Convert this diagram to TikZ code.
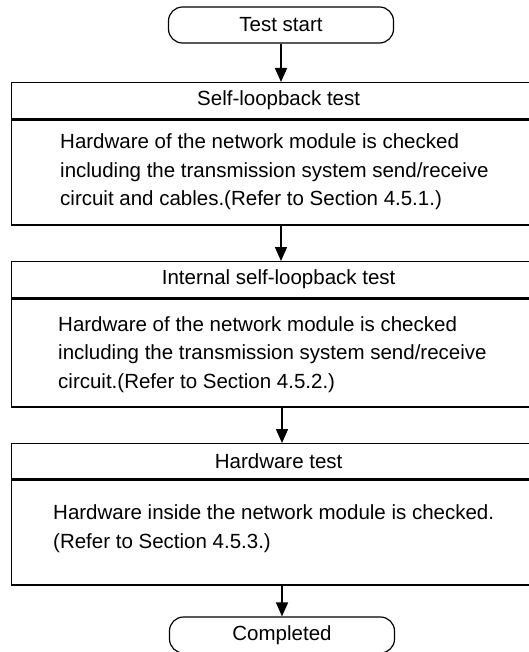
\documentclass[tikz,border=0pt]{standalone}
\usepackage{fontspec}
\setmainfont{Liberation Sans}
\usetikzlibrary{arrows.meta}
\begin{document}
\begin{tikzpicture}[x=1pt,y=-1pt,
  every node/.style={font=\fontsize{20.5}{28.5}\selectfont, inner sep=0pt},
  term/.style={draw, line width=1.2pt, rounded corners=14pt, minimum width=225pt, minimum height=36pt},
  headbox/.style={draw, line width=1.3pt, minimum width=534pt, minimum height=36pt, anchor=north west},
  bodybox/.style={draw, line width=1.3pt, minimum width=534pt, anchor=north west},
  bodytext/.style={anchor=base west, align=left},
  flow/.style={-{Triangle[width=12pt,length=14pt]}, line width=1.5pt}]
\useasboundingbox (0,0) rectangle (529,652);
\clip (0,0) rectangle (529,652);
\fill[white] (0,0) rectangle (529,652);
\node[term] (s) at (281,25) {Test start};
\node[headbox] (h1) at (11,82) {Self-loopback test};
\node[bodybox, minimum height=105pt] (b1) at (h1.south west) {};
\node[bodytext] (t1) at (60,206) {Hardware of the network module is checked\\including the transmission system send/receive\\circuit and cables.(Refer to Section 4.5.1.)};
\node[headbox] (h2) at (11,261) {Internal self-loopback test};
\node[bodybox, minimum height=108pt] (b2) at (h2.south west) {};
\node[bodytext] (t2) at (58,388) {Hardware of the network module is checked\\including the transmission system send/receive\\circuit.(Refer to Section 4.5.2.)};
\node[headbox, minimum height=35pt] (h3) at (11,443) {Hardware test};
\node[bodybox, minimum height=105pt] (b3) at (h3.south west) {};
\node[bodytext] (t3) at (53,548) {Hardware inside the network module is checked.\\(Refer to Section 4.5.3.)};
\node[term] (e) at (282,635) {Completed};
\draw[flow] (s.south) -- (s.south |- h1.north);
\draw[flow] (s.south |- b1.south) -- (s.south |- h2.north);
\draw[flow] (e.north |- b2.south) -- (e.north |- h3.north);
\draw[flow] (e.north |- b3.south) -- (e.north);
\end{tikzpicture}
\end{document}
